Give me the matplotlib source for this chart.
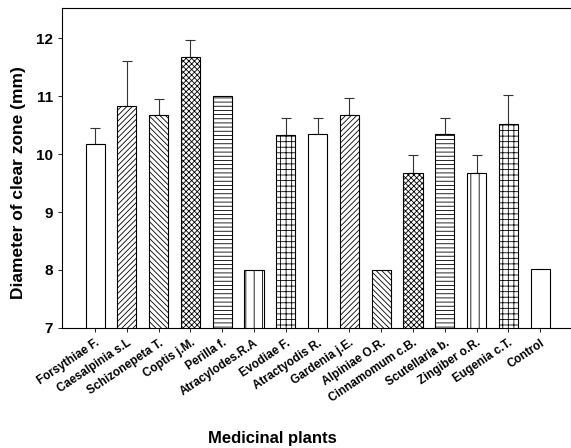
import matplotlib
matplotlib.use('Agg')
import matplotlib.pyplot as plt

plt.rcParams['font.family'] = ['Liberation Sans', 'DejaVu Sans']
plt.rcParams['hatch.linewidth'] = 0.6

plants = ['Forsythiae F.', 'Caesalpinia s.L', 'Schizonepeta T.', 'Coptis j.M.',
          'Perilla f.', 'Atracylodes.R.A', 'Evodiae F.', 'Atractyodis R.',
          'Gardenia j.E.', 'Alpiniae O.R.', 'Cinnamomum c.B.', 'Scutellaria b.',
          'Zingiber o.R.', 'Eugenia c.T.', 'Control']
means = [10.17, 10.83, 10.67, 11.67, 11.0, 8.0, 10.33, 10.35,
         10.68, 8.0, 9.68, 10.34, 9.68, 10.52, 8.01]
errors = [0.28, 0.77, 0.28, 0.30, 0.0, 0.0, 0.30, 0.28,
          0.29, 0.0, 0.30, 0.29, 0.30, 0.50, 0.0]
hatches = ['', '//////', '\\\\\\\\\\\\', 'xxxxxx', '----', '||', '+++',
           '', '//////', '\\\\\\\\\\\\', 'xxxxxx', '----', '||', '+++', '']

fig = plt.figure(figsize=(5.71, 4.48), dpi=100)
ax = fig.add_axes([0.1086, 0.268, 0.8914, 0.714])

x = list(range(len(plants)))
bars = ax.bar(x, means, width=0.6, color='white',
              edgecolor='black', linewidth=0.8, zorder=2)
for b, h in zip(bars, hatches):
    b.set_hatch(h)

# only upper error bars
for xi, m, e in zip(x, means, errors):
    if e > 0:
        ax.errorbar(xi, m, yerr=[[0], [e]], fmt='none', ecolor='#333333',
                    elinewidth=0.8, capsize=3.5, capthick=0.8, zorder=1)

ax.set_ylim(7, 12.52)
ax.set_xlim(-1.04, 14.97)
ax.set_yticks([7, 8, 9, 10, 11, 12])
ax.set_xticks(x)
ax.set_xticklabels(plants, rotation=34, ha='right', rotation_mode='anchor',
                   fontsize=8.5, fontweight='bold')
for lab in ax.get_yticklabels():
    lab.set_fontweight('bold')
    lab.set_fontsize(11)
ax.tick_params(axis='both', direction='out', length=3, width=0.6)
ax.spines['right'].set_visible(False)

ax.set_ylabel('Diameter of clear zone (mm)', fontsize=12.5, fontweight='bold')
ax.yaxis.set_label_coords(-0.071, 0.456)
ax.set_xlabel('Medicinal plants', fontsize=12, fontweight='bold')
ax.xaxis.set_label_coords(0.413, -0.322)

fig.savefig('out.png', dpi=100)
